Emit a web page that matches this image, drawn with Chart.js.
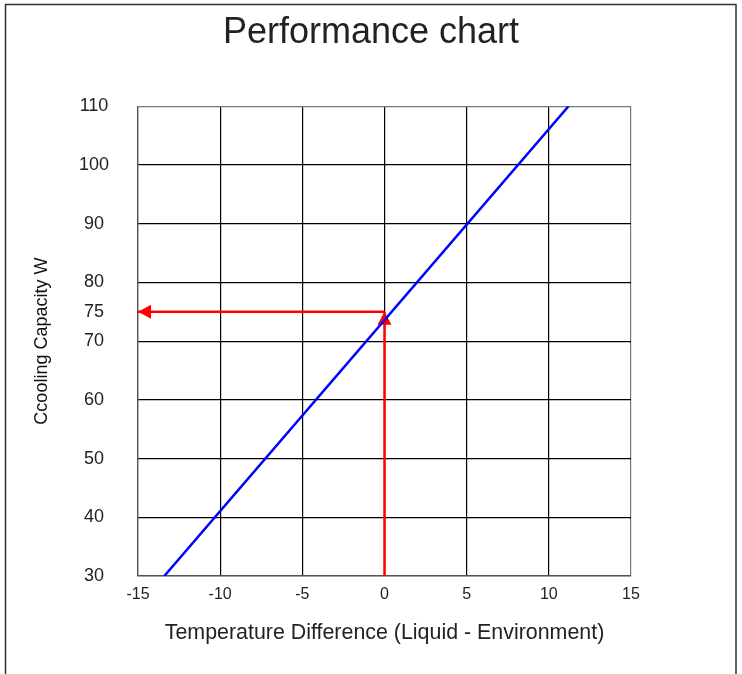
<!DOCTYPE html>
<html>
<head>
<meta charset="utf-8">
<script src="https://cdn.jsdelivr.net/npm/chart.js@4"></script>
<style>
  html, body { margin: 0; padding: 0; background: #fff; }
  #wrap { width: 742px; height: 674px; position: relative; }
</style>
</head>
<body>
<div id="wrap"><canvas id="grafico"></canvas></div>
<script>
// ── Datos ─────────────────────────────
const xTicks = [-15, -10, -5, 0, 5, 10, 15];
const yTicks = [30, 40, 50, 60, 70, 75, 80, 90, 100, 110];

// recta de rendimiento (extremos)
const lineaX = [-13.4, 11.2];
const lineaY = [30, 110];

// punto de lectura: ΔT = 0 -> 75 W
const lecturaX = 0;
const lecturaY = 75;

const puntos = (xs, ys) => xs.map((x, i) => ({ x, y: ys[i] }));

const FUENTE = 'Liberation Sans, Arial, sans-serif';

// ── Plugin: marco + puntas de flecha ──
const marco = {
  id: 'marco',
  beforeDraw(chart) {
    const c = chart.ctx;
    c.save();
    c.fillStyle = '#fff';
    c.fillRect(0, 0, chart.width, chart.height);
    c.strokeStyle = '#333';
    c.lineWidth = 1.5;
    c.strokeRect(5.5, 4.5, 730.5, 700);
    c.restore();
  }
};

const flechas = {
  id: 'flechas',
  afterDatasetDraw(chart, args) {
    const ds = chart.data.datasets[args.index];
    if (!ds.arrow) return;
    const sx = chart.scales.x, sy = chart.scales.y;
    const d = ds.data;
    const a = d[d.length - 2], b = d[d.length - 1];
    const x0 = sx.getPixelForValue(a.x), y0 = sy.getPixelForValue(a.y);
    const x1 = sx.getPixelForValue(b.x), y1 = sy.getPixelForValue(b.y);
    const ang = Math.atan2(y1 - y0, x1 - x0);
    const len = 13, half = 7;
    const c = chart.ctx;
    c.save();
    c.fillStyle = ds.borderColor;
    c.translate(x1, y1);
    c.rotate(ang);
    c.beginPath();
    c.moveTo(0, 0);
    c.lineTo(-len, -half);
    c.lineTo(-len, half);
    c.closePath();
    c.fill();
    c.restore();
  }
};

new Chart(document.getElementById('grafico'), {
  type: 'scatter',
  data: {
    datasets: [
      {
        label: 'Rendimiento',
        data: puntos(lineaX, lineaY),
        showLine: true,
        borderColor: '#0000FF',
        borderWidth: 2.5,
        pointRadius: 0,
      },
      {
        label: 'Lectura vertical',
        data: puntos([lecturaX, lecturaX], [30, lecturaY]),
        showLine: true,
        borderColor: '#FF0000',
        borderWidth: 2.5,
        pointRadius: 0,
        arrow: true,
      },
      {
        label: 'Lectura horizontal',
        data: puntos([lecturaX, -15], [lecturaY, lecturaY]),
        showLine: true,
        borderColor: '#FF0000',
        borderWidth: 2.5,
        pointRadius: 0,
        arrow: true,
      }
    ]
  },
  options: {
    responsive: true,
    maintainAspectRatio: false,
    animation: false,
    events: [],
    layout: { padding: 0 },
    plugins: {
      legend: { display: false },
      tooltip: { enabled: false },
      title: {
        display: true,
        text: 'Performance chart',
        color: '#222',
        font: { family: FUENTE, size: 36, weight: 'normal' },
        padding: { top: 11, bottom: 52 }
      }
    },
    scales: {
      x: {
        type: 'linear',
        min: -15,
        max: 15,
        afterBuildTicks: s => { s.ticks = xTicks.map(v => ({ value: v })); },
        afterFit: s => { s.height = 98; },
        grid: {
          color: ctx => (ctx.tick && ctx.tick.value === 15 ? '#777' : '#000'),
          lineWidth: 1.2,
          drawTicks: false
        },
        border: { color: '#555', width: 1.2 },
        ticks: {
          padding: 9,
          color: '#222',
          font: { family: FUENTE, size: 16 }
        },
        title: {
          display: true,
          text: 'Temperature Difference (Liquid - Environment)',
          color: '#222',
          font: { family: FUENTE, size: 21.4 },
          padding: { top: 0, bottom: 28 }
        }
      },
      y: {
        type: 'linear',
        min: 30,
        max: 110,
        afterBuildTicks: s => { s.ticks = yTicks.map(v => ({ value: v })); },
        afterFit: s => { s.width = 138; },
        grid: {
          color: ctx => {
            if (!ctx.tick) return '#000';
            if (ctx.tick.value === 75) return 'rgba(0,0,0,0)';
            if (ctx.tick.value === 110) return '#777';
            return '#000';
          },
          lineWidth: 1.2,
          drawTicks: false
        },
        border: { color: '#555', width: 1.2 },
        ticks: {
          padding: 29,
          crossAlign: 'center',
          color: '#222',
          font: { family: FUENTE, size: 18 }
        },
        title: {
          display: true,
          text: 'Ccooling Capacity W',
          color: '#111',
          font: { family: FUENTE, size: 18 },
          padding: { top: 31, bottom: 0 }
        }
      },
      // espacio vacío a la derecha del área de trazado
      yDer: {
        type: 'linear',
        position: 'right',
        min: 30,
        max: 110,
        afterFit: s => { s.width = 111; },
        grid: { display: false },
        border: { display: false },
        ticks: { display: false }
      }
    }
  },
  plugins: [marco, flechas]
});
</script>
</body>
</html>
